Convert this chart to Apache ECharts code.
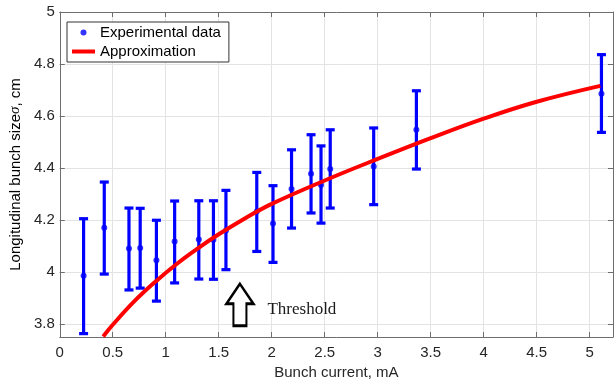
<!DOCTYPE html>
<html>
<head>
<meta charset="utf-8">
<script src="https://cdn.jsdelivr.net/npm/echarts@6/dist/echarts.min.js"></script>
<style>
  html, body { margin: 0; padding: 0; background: #fff; }
  #chart { width: 614px; height: 385px; }
</style>
</head>
<body>
<div id="chart"></div>
<script>
// measured points (bunch current, mA / sigma, cm)
const currents = [0.225, 0.42, 0.653, 0.759, 0.912, 1.084, 1.312, 1.45, 1.568, 1.859, 2.012, 2.187, 2.371, 2.465, 2.552, 2.962, 3.365, 5.111];
const sizes    = [3.986, 4.170, 4.090, 4.092, 4.045, 4.117, 4.125, 4.124, 4.160, 4.233, 4.187, 4.319, 4.378, 4.335, 4.396, 4.406, 4.547, 4.686];
const upper    = [4.205, 4.346, 4.246, 4.245, 4.199, 4.273, 4.274, 4.274, 4.314, 4.383, 4.332, 4.470, 4.528, 4.485, 4.547, 4.554, 4.697, 4.836];
const lower    = [3.763, 3.992, 3.931, 3.938, 3.888, 3.958, 3.973, 3.972, 4.009, 4.079, 4.037, 4.169, 4.227, 4.188, 4.246, 4.259, 4.396, 4.537];

// approximation curve
const approxCurrent = [0.41, 0.5, 0.7, 0.9, 1.1, 1.3, 1.5, 1.75, 2.0, 2.5, 3.0, 3.5, 4.0, 4.5, 5.1];
const approxSize    = [3.752, 3.797, 3.886, 3.962, 4.030, 4.090, 4.145, 4.207, 4.262, 4.352, 4.435, 4.515, 4.590, 4.655, 4.716];

const thresholdCurrent = 1.7;
const thresholdLabel = 'Threshold';

const font = "'Liberation Sans', Arial, sans-serif";
const ink = '#262626';
const axisGray = '#6e6e6e';

const chart = echarts.init(document.getElementById('chart'), null, { renderer: 'canvas' });

const xCommon = { type: 'value', min: 0, max: 5.22, interval: 0.5 };
const yCommon = { type: 'value', min: 3.75, max: 5, splitNumber: 6, minInterval: 0.2, maxInterval: 0.2 };

chart.setOption({
    animation: false,
    backgroundColor: '#fff',
    textStyle: { fontFamily: font },
    grid: { left: 56, right: 1, top: 12, bottom: 48 },
    legend: {
        orient: 'vertical',
        left: 67, top: 22,
        padding: [3, 8, 3, 5],
        itemGap: 4,
        itemWidth: 23, itemHeight: 6,
        itemTextGap: 3,
        backgroundColor: '#fff',
        borderColor: '#333',
        borderWidth: 1,
        textStyle: { fontSize: 15, color: '#000', fontFamily: font },
        data: [
            { name: 'Experimental data', icon: 'circle' },
            { name: 'Approximation', icon: 'path://M0,0 H23 V4 H0 Z' }
        ]
    },
    xAxis: [
        {
            ...xCommon,
            position: 'bottom',
            name: 'Bunch current, mA',
            nameLocation: 'middle',
            nameGap: 27,
            nameTextStyle: { fontSize: 15, color: ink, fontFamily: font },
            axisLine: { onZero: false, lineStyle: { color: axisGray } },
            axisTick: { inside: true, length: 5, lineStyle: { color: axisGray } },
            axisLabel: { fontSize: 15, color: ink, margin: 8, showMaxLabel: false },
            splitLine: { show: true, lineStyle: { color: '#e3e3e3' } }
        },
        {
            ...xCommon,
            position: 'top',
            axisLine: { onZero: false, lineStyle: { color: axisGray } },
            axisTick: { inside: true, length: 5, lineStyle: { color: axisGray } },
            axisLabel: { show: false },
            splitLine: { show: false }
        }
    ],
    yAxis: [
        {
            ...yCommon,
            position: 'left',
            name: 'Longitudinal bunch size{s|σ}, cm',
            nameLocation: 'middle',
            nameGap: 32,
            nameTextStyle: {
                fontSize: 15, color: '#000', fontFamily: font,
                rich: { s: { fontSize: 15, fontStyle: 'italic', fontFamily: "'Liberation Serif', serif", color: '#000' } }
            },
            axisLine: { onZero: false, lineStyle: { color: axisGray } },
            axisTick: { inside: true, length: 5, lineStyle: { color: axisGray } },
            axisLabel: { fontSize: 15, color: ink, margin: 5, showMinLabel: false },
            splitLine: { show: true, lineStyle: { color: '#e3e3e3' } }
        },
        {
            ...yCommon,
            position: 'right',
            axisLine: { onZero: false, lineStyle: { color: axisGray } },
            axisTick: { inside: true, length: 5, lineStyle: { color: axisGray } },
            axisLabel: { show: false },
            splitLine: { show: false }
        }
    ],
    series: [
        {
            name: 'errors',
            type: 'custom',
            clip: true,
            z: 2,
            data: currents.map((c, i) => [c, lower[i], upper[i]]),
            encode: { x: 0, y: [1, 2] },
            renderItem: (params, api) => {
                const lo = api.coord([api.value(0), api.value(1)]);
                const hi = api.coord([api.value(0), api.value(2)]);
                const half = 4.5;
                const style = { stroke: '#0000ff', lineWidth: 3.2 };
                return {
                    type: 'group',
                    children: [
                        { type: 'line', shape: { x1: lo[0], y1: lo[1], x2: hi[0], y2: hi[1] }, style },
                        { type: 'line', shape: { x1: lo[0] - half, y1: lo[1], x2: lo[0] + half, y2: lo[1] }, style },
                        { type: 'line', shape: { x1: hi[0] - half, y1: hi[1], x2: hi[0] + half, y2: hi[1] }, style }
                    ]
                };
            }
        },
        {
            name: 'Experimental data',
            type: 'scatter',
            z: 3,
            symbol: 'circle',
            symbolSize: 6,
            itemStyle: { color: '#0000ff' },
            data: currents.map((c, i) => [c, sizes[i]])
        },
        {
            name: 'Approximation',
            type: 'line',
            z: 4,
            smooth: 0.4,
            showSymbol: false,
            symbol: 'none',
            clip: true,
            lineStyle: { color: '#ff0000', width: 4 },
            itemStyle: { color: '#ff0000' },
            data: approxCurrent.map((c, i) => [c, approxSize[i]]),
            markPoint: {
                silent: true,
                symbol: 'path://M13.5,0 L27,20 L20,20 L20,42 L7,42 L7,20 L0,20 Z',
                symbolSize: [27, 42],
                itemStyle: { color: '#fff', borderColor: '#000', borderWidth: 2.5 },
                label: {
                    show: true,
                    position: 'right',
                    distance: 13,
                    offset: [0, 5],
                    formatter: thresholdLabel,
                    fontFamily: "'Liberation Serif', 'Times New Roman', serif",
                    fontSize: 17,
                    color: '#1a1a1a'
                },
                data: [{ coord: [thresholdCurrent, 3.874] }]
            }
        }
    ]
});
</script>
</body>
</html>
